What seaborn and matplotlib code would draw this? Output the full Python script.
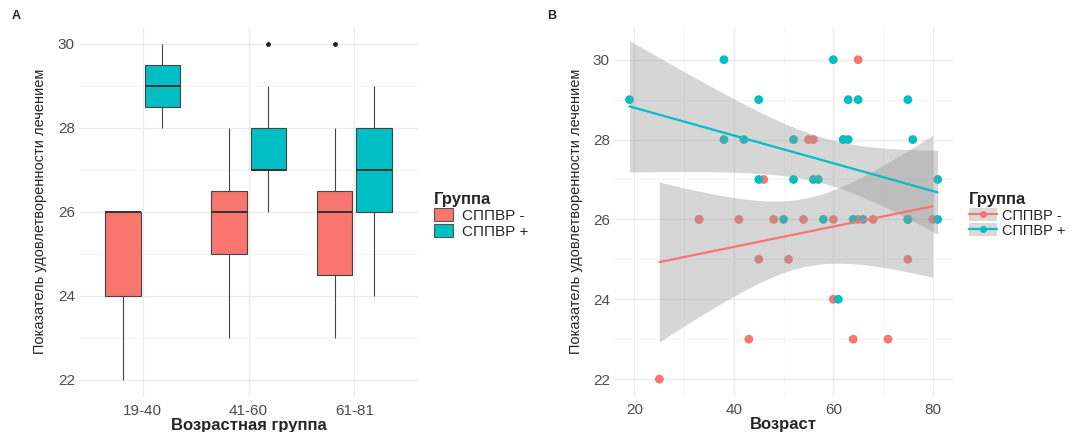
import numpy as np
import pandas as pd
import seaborn as sns
import matplotlib.pyplot as plt
from matplotlib.patches import Patch
from matplotlib.lines import Line2D

# data (age, score) per group
red_age = [25, 33, 33, 41, 43, 45, 46, 48, 51, 54, 55, 56, 60, 60, 62, 64, 65, 65, 68, 71, 75, 80]
red_score = [22, 26, 26, 26, 23, 25, 27, 26, 25, 26, 28, 28, 24, 26, 28, 23, 26, 30, 26, 23, 25, 26]
teal_age = [19, 38, 38, 42, 45, 45, 50, 52, 52, 56, 57, 58, 60, 61, 62, 63, 63, 64, 65, 66, 75, 75, 75, 76, 81, 81]
teal_score = [29, 30, 28, 28, 29, 27, 26, 28, 27, 27, 27, 26, 30, 24, 28, 29, 28, 26, 29, 26, 29, 26, 26, 28, 27, 26]

groups = ["СППВР -", "СППВР +"]
age_bins = [18, 40, 60, 81]
age_labels = ["19-40", "41-60", "61-81"]
colors = ["#F8766D", "#00BFC4"]

df = pd.DataFrame({
    "age": red_age + teal_age,
    "score": red_score + teal_score,
    "group": [groups[0]] * len(red_age) + [groups[1]] * len(teal_age),
})
df["agegrp"] = pd.cut(df["age"], bins=age_bins, labels=age_labels)


def t975(nu):
    # Cornish-Fisher approx of the t quantile (no scipy needed)
    z = 1.959964
    return z + (z**3 + z) / (4 * nu) + (5 * z**5 + 16 * z**3 + 3 * z) / (96 * nu**2)


def lm_band(x, y, xs):
    # classic lm confidence band like ggplot's geom_smooth(method="lm")
    x = np.asarray(x, float)
    y = np.asarray(y, float)
    n = len(x)
    b, a = np.polyfit(x, y, 1)
    res = y - (a + b * x)
    s = np.sqrt((res**2).sum() / (n - 2))
    se = s * np.sqrt(1 / n + (xs - x.mean())**2 / ((x - x.mean())**2).sum())
    fit = a + b * xs
    w = t975(n - 2) * se
    return fit - w, fit + w


sns.set_theme(style="white")
plt.rcParams["font.family"] = ["Liberation Sans", "DejaVu Sans"]

fig = plt.figure(figsize=(10.74, 4.32), dpi=100)
axA = fig.add_axes([0.0736, 0.082, 0.3156, 0.856])
axB = fig.add_axes([0.5718, 0.0836, 0.3156, 0.854])

grid_major = dict(color="#EBEBEB", lw=1.0)
grid_minor = dict(color="#F4F4F4", lw=0.6)

# ---- panel A : boxplots
sns.boxplot(data=df, x="agegrp", y="score", hue="group", hue_order=groups,
            palette=colors, saturation=1, width=0.75, gap=0.1, linewidth=0.8,
            linecolor="#444444", showcaps=False, whis=1.5,
            flierprops=dict(marker="o", markersize=2.5, markerfacecolor="#222222",
                            markeredgecolor="#222222"),
            medianprops=dict(color="#333333", lw=1.4),
            legend=False, ax=axA, zorder=3)
axA.set_xlim(-0.6, 2.6)
axA.set_ylim(21.6, 30.4)
axA.set_yticks([22, 24, 26, 28, 30])
axA.set_yticks([23, 25, 27, 29], minor=True)
axA.grid(True, which="major", **grid_major, zorder=0)
axA.grid(True, which="minor", axis="y", **grid_minor, zorder=0)
axA.set_axisbelow(True)
axA.set_xlabel("Возрастная группа", fontsize=12, fontweight="bold", labelpad=0)
axA.set_ylabel("Показатель удовлетворенности лечением", fontsize=10.5)
axA.yaxis.set_label_coords(-0.095, 0.5)

hA = [Patch(facecolor=c, edgecolor="#555555", lw=0.8) for c in colors]
legA = axA.legend(hA, groups, title="Группа", loc="center left", bbox_to_anchor=(1.03, 0.49),
                  frameon=False, fontsize=11, handlelength=1.2, handleheight=0.9,
                  labelspacing=0.1, handletextpad=0.6, borderaxespad=0)
legA.get_title().set_fontweight("bold")
legA.get_title().set_fontsize(12)
legA._legend_box.align = "left"

# ---- panel B : scatter + linear fits
sns.scatterplot(data=df, x="age", y="score", hue="group", hue_order=groups,
                palette=colors, s=40, edgecolor="none", legend=False, ax=axB, zorder=2)
for g, c in zip(groups, colors):
    sub = df[df["group"] == g]
    sns.regplot(data=sub, x="age", y="score", scatter=False, ci=None,
                color=c, line_kws=dict(lw=1.6, zorder=4), ax=axB)
    xs = np.linspace(sub["age"].min(), sub["age"].max(), 100)
    lo, hi = lm_band(sub["age"], sub["score"], xs)
    axB.fill_between(xs, lo, hi, color="#999999", alpha=0.4, lw=0, zorder=3)

axB.set_xlim(15.9, 84.1)
axB.set_ylim(21.58, 30.82)
axB.set_xticks([20, 40, 60, 80])
axB.set_xticks([30, 50, 70], minor=True)
axB.set_yticks([22, 24, 26, 28, 30])
axB.set_yticks([23, 25, 27, 29], minor=True)
axB.grid(True, which="major", **grid_major, zorder=0)
axB.grid(True, which="minor", **grid_minor, zorder=0)
axB.set_axisbelow(True)
axB.set_xlabel("Возраст", fontsize=12, fontweight="bold", labelpad=0)
axB.set_ylabel("Показатель удовлетворенности лечением", fontsize=10.5)
axB.yaxis.set_label_coords(-0.092, 0.5)

hB = [(Patch(facecolor="#D9D9D9", edgecolor="none"),
       Line2D([], [], color=c, lw=1.6, marker="o", markersize=5, markeredgecolor="none"))
      for c in colors]
legB = axB.legend(hB, groups, title="Группа", loc="center left", bbox_to_anchor=(1.03, 0.49),
                  frameon=False, fontsize=10.5, handlelength=1.9, handleheight=1.0,
                  labelspacing=0.05, handletextpad=0.35, borderaxespad=0)
legB.get_title().set_fontweight("bold")
legB.get_title().set_fontsize(12)
legB._legend_box.align = "left"

for ax in (axA, axB):
    for s in ax.spines.values():
        s.set_visible(False)
    ax.tick_params(axis="both", which="both", length=0, labelsize=11, labelcolor="#4D4D4D", pad=3)
    ax.tick_params(axis="x", pad=5)

fig.text(0.011, 0.955, "A", fontsize=9, fontweight="bold")
fig.text(0.509, 0.955, "B", fontsize=9, fontweight="bold")

fig.savefig("out.png", dpi=100, facecolor="white")
